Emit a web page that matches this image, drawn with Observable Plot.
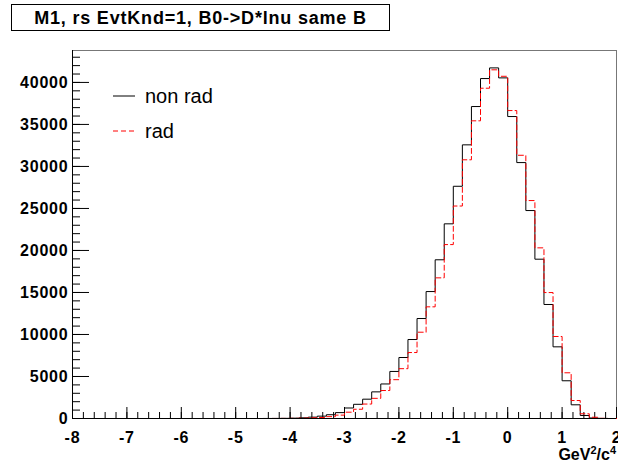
<!DOCTYPE html>
<html>
<head>
<meta charset="utf-8">
<script src="https://cdn.jsdelivr.net/npm/d3@7"></script>
<script src="https://cdn.jsdelivr.net/npm/@observablehq/plot@0.6"></script>
<style>
  body { margin: 0; background: #fff; }
  #wrap { position: relative; width: 618px; height: 464px; font-family: "Liberation Sans", Arial, Helvetica, sans-serif; overflow: hidden; }
  #title { position: absolute; left: 11px; top: 4px; width: 377px; height: 25px; border: 1px solid #000; background: #fff;
           font-weight: bold; font-size: 18px; letter-spacing: 0.8px; text-align: center; line-height: 26px; color: #000; }
  .leg { position: absolute; font-size: 20px; color: #000; line-height: 22px; }
  .legsym { position: absolute; }
  #xtitle { position: absolute; right: 2px; top: 447px; height: 16px; font-weight: bold; font-size: 16px; line-height: 16px; color: #000; white-space: nowrap; }
  #xtitle sup { font-size: 11px; vertical-align: 6px; line-height: 0; }
</style>
</head>
<body>
<div id="wrap">
  <div id="chart"></div>
</div>
<script>
// ---- data ----
const xMin = -8;
const xMax = 2;
const nBins = 60;
const yMax = 43800;

// "non rad" histogram counts, 60 bins of width 1/6 from -8 to 2
const nonRad = [
  0, 0, 0, 0, 0, 0, 0, 0, 0, 0, 0, 0,
  0, 0, 0, 0, 0, 0, 0, 0, 0, 5, 10, 20,
  40, 80, 160, 280, 450, 700, 1250, 1690, 2300, 3170, 4110, 5600,
  7260, 9400, 11900, 15110, 18890, 23170, 27640, 32570, 37130, 40460, 41730, 40540,
  35940, 30460, 24750, 18960, 13570, 8530, 4490, 1630, 360, 60, 10, 0
];

// "rad" histogram counts
const rad = [
  0, 0, 0, 0, 0, 0, 0, 0, 0, 0, 0, 0,
  0, 0, 0, 0, 0, 0, 0, 0, 0, 0, 5, 10,
  20, 40, 80, 120, 220, 400, 750, 1100, 1720, 2400, 3330, 4620,
  5930, 7850, 10270, 13290, 16740, 20700, 25290, 30790, 35430, 39310, 41500, 40730,
  36650, 31330, 25940, 20310, 14990, 9760, 5440, 2140, 560, 150, 20, 0
];

const xTicks = [-8, -7, -6, -5, -4, -3, -2, -1, 0, 1, 2];
const yTicks = [0, 5000, 10000, 15000, 20000, 25000, 30000, 35000, 40000];
const xMinorStep = 0.2;
const yMinorStep = 1000;

const seriesNames = ["non rad", "rad"];
const titleText = "M1, rs EvtKnd=1, B0->D*lnu same B";

// ---- build ----
const W = 618, H = 464;
const mL = 72, mR = 2, mT = 50, mB = 46;
const frameW = W - mL - mR, frameH = H - mT - mB;

const binEdges = d3.range(nBins + 1).map(i => xMin + i * (xMax - xMin) / nBins);
function stepPoints(counts) {
  const pts = counts.map((c, i) => ({x: binEdges[i], y: c}));
  pts.push({x: xMax, y: counts[counts.length - 1]});
  return pts;
}
const xMinor = d3.range(xMin, xMax + 1e-9, xMinorStep).map(v => +v.toFixed(4));
const yMinor = d3.range(0, yMax, yMinorStep);

const plot = Plot.plot({
  width: W,
  height: H,
  marginLeft: mL,
  marginRight: mR,
  marginTop: mT,
  marginBottom: mB,
  style: {fontFamily: '"Liberation Sans", Arial, Helvetica, sans-serif', color: "#000", background: "transparent", letterSpacing: "0.8px", overflow: "visible"},
  x: {domain: [xMin, xMax]},
  y: {domain: [0, yMax]},
  marks: [
    Plot.frame({stroke: "#777", strokeWidth: 1}),
    // y ticks (inward)
    Plot.tickY(yMinor, {y: d => d, stroke: "#000", strokeWidth: 1, insetRight: frameW - 8}),
    Plot.tickY(yTicks, {y: d => d, stroke: "#000", strokeWidth: 1, insetRight: frameW - 17}),
    // x ticks (inward)
    Plot.tickX(xMinor, {x: d => d, stroke: "#000", strokeWidth: 1, insetTop: frameH - 6}),
    Plot.tickX(xTicks, {x: d => d, stroke: "#000", strokeWidth: 1, insetTop: frameH - 11}),
    // histograms
    Plot.line(stepPoints(nonRad), {x: "x", y: "y", curve: "step-after", stroke: "#000", strokeWidth: 1}),
    Plot.line(stepPoints(rad), {x: "x", y: "y", curve: "step-after", stroke: "#ff0000", strokeWidth: 1, strokeDasharray: "5,3"}),
    // axis lines
    Plot.ruleX([xMin], {stroke: "#000", strokeWidth: 1}),
    Plot.ruleY([0], {stroke: "#000", strokeWidth: 1}),
    // tick labels
    Plot.axisY({ticks: yTicks, tickSize: 0, tickPadding: 4, label: null, fontSize: 16, fontWeight: "bold", tickFormat: d => String(d)}),
    Plot.axisX({ticks: xTicks, tickSize: 0, tickPadding: 13, label: null, fontSize: 16, fontWeight: "bold", tickFormat: d => String(d)})
  ]
});
document.getElementById("chart").appendChild(plot);

const wrap = document.getElementById("wrap");
// title box
const t = document.createElement("div");
t.id = "title";
t.textContent = titleText;
wrap.appendChild(t);

// legend
function legendEntry(name, color, dash, yCenter) {
  const ns = "http://www.w3.org/2000/svg";
  const s = document.createElementNS(ns, "svg");
  s.setAttribute("class", "legsym");
  s.setAttribute("width", 24);
  s.setAttribute("height", 4);
  s.style.left = "112px";
  s.style.top = (yCenter - 2) + "px";
  const l = document.createElementNS(ns, "line");
  l.setAttribute("x1", 1); l.setAttribute("x2", 23);
  l.setAttribute("y1", 2); l.setAttribute("y2", 2);
  l.setAttribute("stroke", color);
  l.setAttribute("stroke-width", 1);
  if (dash) l.setAttribute("stroke-dasharray", dash);
  s.appendChild(l);
  wrap.appendChild(s);
  const d = document.createElement("div");
  d.className = "leg";
  d.style.left = "145px";
  d.style.top = (yCenter - 11) + "px";
  d.textContent = name;
  wrap.appendChild(d);
}
legendEntry(seriesNames[0], "#000", null, 96);
legendEntry(seriesNames[1], "#ff0000", "5,3", 131);

// x-axis title
const xt = document.createElement("div");
xt.id = "xtitle";
xt.innerHTML = "GeV<sup>2</sup>/c<sup>4</sup>";
wrap.appendChild(xt);
</script>
</body>
</html>
